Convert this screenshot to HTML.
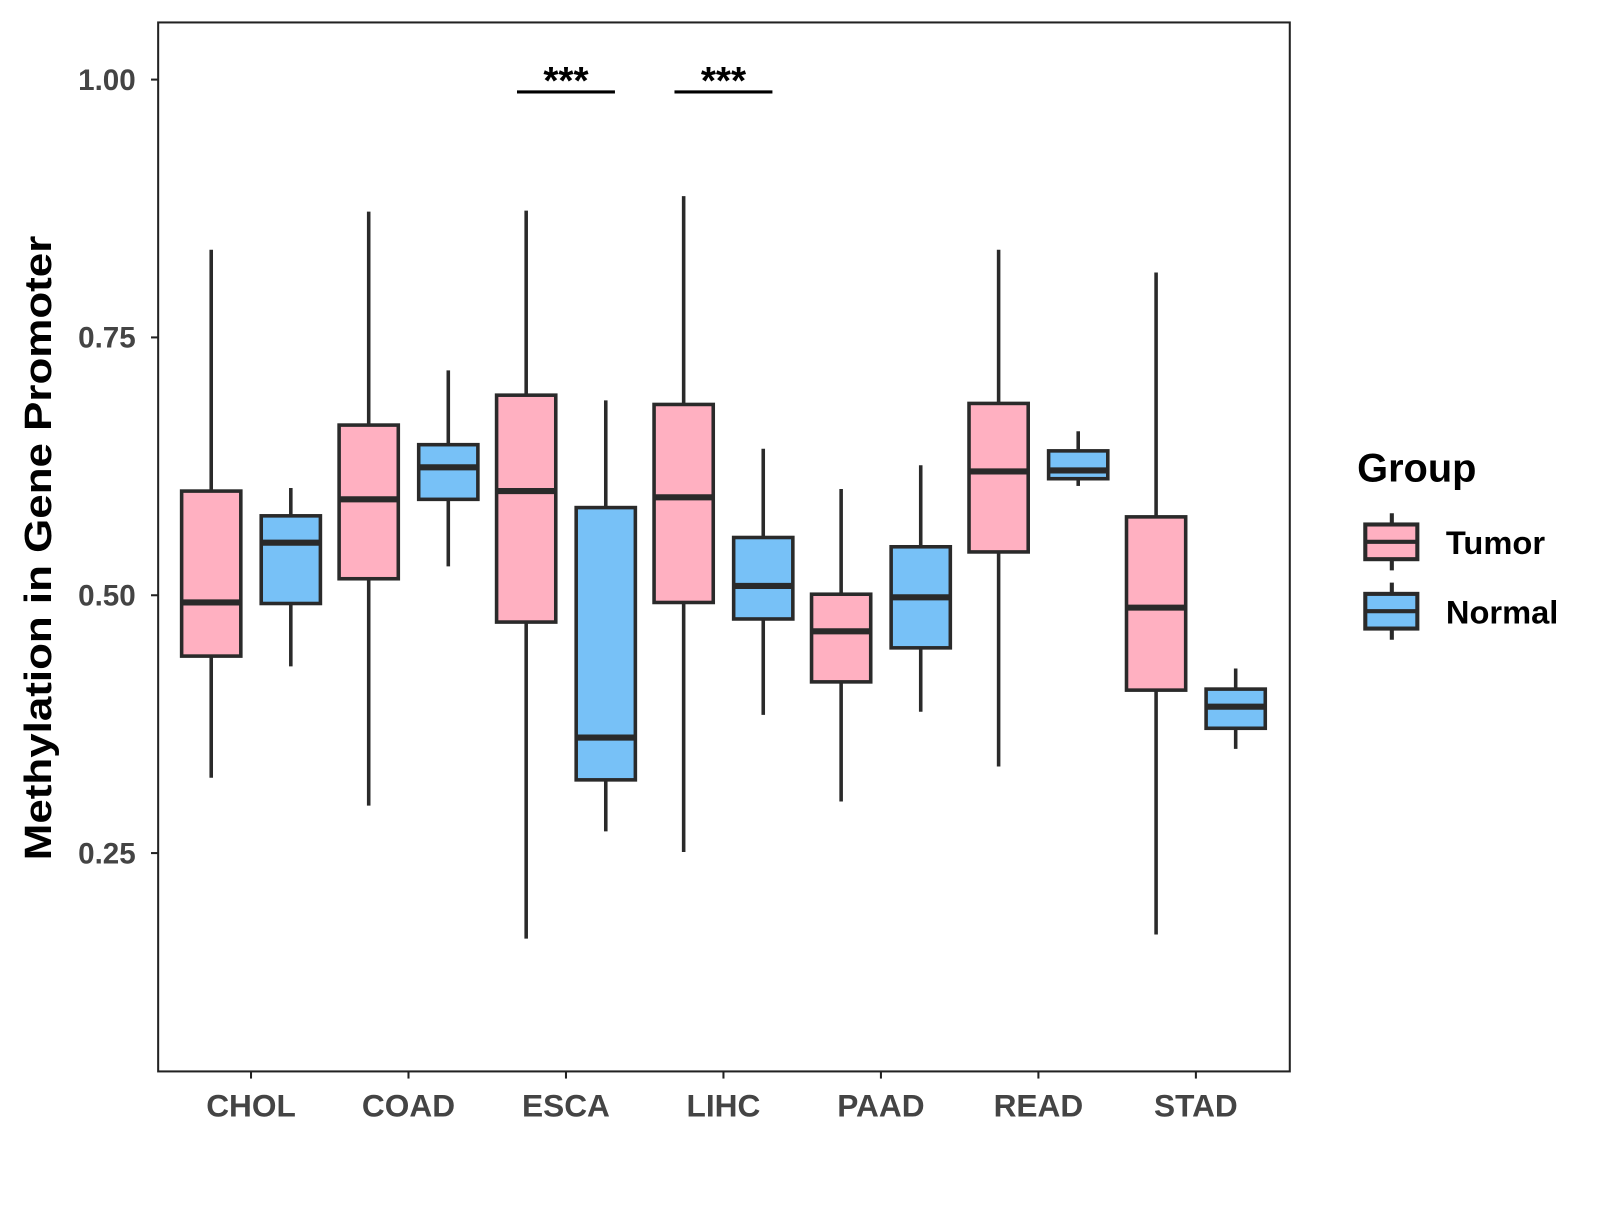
<!DOCTYPE html>
<html><head><meta charset="utf-8"><style>body{margin:0;background:#fff}svg text{font-family:"Liberation Sans",Arial,sans-serif;font-weight:bold}</style></head>
<body>
<svg id="chart" width="1600" height="1200" xmlns="http://www.w3.org/2000/svg">
<g transform="scale(1.0204)">
<rect x="155" y="22" width="1109" height="1028" fill="#fff" stroke="#222" stroke-width="2"/>
<g id="yaxis"></g>
<g id="xaxis"></g>
<g id="boxes"></g>
<g id="sig"></g>
<text x="50" y="537" font-size="37" fill="#000" text-anchor="middle" textLength="612" lengthAdjust="spacingAndGlyphs" transform="rotate(-90 50 537)">Methylation in Gene Promoter</text>
<g>
<text x="1330" y="472" font-size="39" fill="#000">Group</text>
<g>
<line x1="1364" y1="503" x2="1364" y2="559" stroke="#2a2a2a" stroke-width="4"/>
<rect x="1338" y="514" width="51" height="34" fill="#FFB0C1" stroke="#2a2a2a" stroke-width="4"/>
<line x1="1338" y1="531" x2="1389" y2="531" stroke="#2a2a2a" stroke-width="4"/>
<text x="1417" y="543" font-size="32" fill="#000">Tumor</text></g>
<g>
<line x1="1364" y1="571" x2="1364" y2="627" stroke="#2a2a2a" stroke-width="4"/>
<rect x="1338" y="582" width="51" height="34" fill="#77C1F7" stroke="#2a2a2a" stroke-width="4"/>
<line x1="1338" y1="599" x2="1389" y2="599" stroke="#2a2a2a" stroke-width="4"/>
<text x="1417" y="611" font-size="32" fill="#000">Normal</text></g>
</g>
</g>
</svg>
<script>
const categories=["CHOL","COAD","ESCA","LIHC","PAAD","READ","STAD"];
// [lower whisker, q1, median, q3, upper whisker]
const tumorStats=[[0.323,0.441,0.493,0.601,0.835],[0.296,0.516,0.593,0.665,0.872],[0.167,0.474,0.601,0.694,0.873],[0.251,0.493,0.595,0.685,0.887],[0.300,0.416,0.465,0.501,0.603],[0.334,0.542,0.620,0.686,0.835],[0.171,0.408,0.488,0.576,0.813]];
const normalStats=[[0.431,0.492,0.551,0.577,0.604],[0.528,0.593,0.624,0.646,0.718],[0.271,0.321,0.362,0.585,0.689],[0.384,0.477,0.509,0.556,0.642],[0.387,0.449,0.498,0.547,0.626],[0.606,0.613,0.621,0.640,0.659],[0.351,0.371,0.392,0.409,0.429]];
const yTicks=[0.25,0.50,0.75,1.00];
const yTickLabels=["0.25","0.50","0.75","1.00"];
const sigCategories=["ESCA","LIHC"];
const sigLabels=["***","***"];
const sigLevel=0.988;

const NS="http://www.w3.org/2000/svg";
const y=v=>78+(1-v)*1010.7;
const x=i=>246+i*154.33;
function mk(tag,attrs,parent,text){const e=document.createElementNS(NS,tag);for(const k in attrs)e.setAttribute(k,attrs[k]);if(text!==undefined)e.textContent=text;parent.appendChild(e);return e;}
const ya=document.getElementById('yaxis'),xa=document.getElementById('xaxis'),bx=document.getElementById('boxes'),sg=document.getElementById('sig');
yTicks.forEach((t,i)=>{
 const l=mk('line',{x1:148,x2:155,y1:y(t),y2:y(t),stroke:'#222','stroke-width':2},ya);
 
 
 const tx=mk('text',{x:133,y:y(t)+10,'font-size':29,fill:'#444','text-anchor':'end'},ya,yTickLabels[i]);
 
 
});
categories.forEach((c,i)=>{
 const l=mk('line',{x1:x(i),x2:x(i),y1:1050,y2:1057,stroke:'#222','stroke-width':2},xa);
 
 
 const tx=mk('text',{x:x(i),y:1094,'font-size':31,fill:'#444','text-anchor':'middle'},xa,c);
 
 
 [[tumorStats[i],-39,'#FFB0C1','tumor'],[normalStats[i],39,'#77C1F7','normal']].forEach(([s,off,col,nm])=>{
  const cx=x(i)+off,w=58;
  const g=mk('g',{},bx);
  
  
  mk('line',{x1:cx,x2:cx,y1:y(s[4]),y2:y(s[0]),stroke:'#2a2a2a','stroke-width':3.5},g);
  mk('rect',{x:cx-w/2,y:y(s[3]),width:w,height:y(s[1])-y(s[3]),fill:col,stroke:'#2a2a2a','stroke-width':3.5},g);
  mk('line',{x1:cx-w/2,x2:cx+w/2,y1:y(s[2]),y2:y(s[2]),stroke:'#2a2a2a','stroke-width':6},g);
 });
});
sigCategories.forEach((c,j)=>{
 const i=categories.indexOf(c);
 const l=mk('line',{x1:x(i)-48,x2:x(i)+48,y1:y(sigLevel),y2:y(sigLevel),stroke:'#000','stroke-width':3},sg);
 
 
 const t=mk('text',{x:x(i),y:y(sigLevel)+2,'font-size':38,fill:'#000','text-anchor':'middle'},sg,sigLabels[j]);
 
 
});
</script>
</body></html>
